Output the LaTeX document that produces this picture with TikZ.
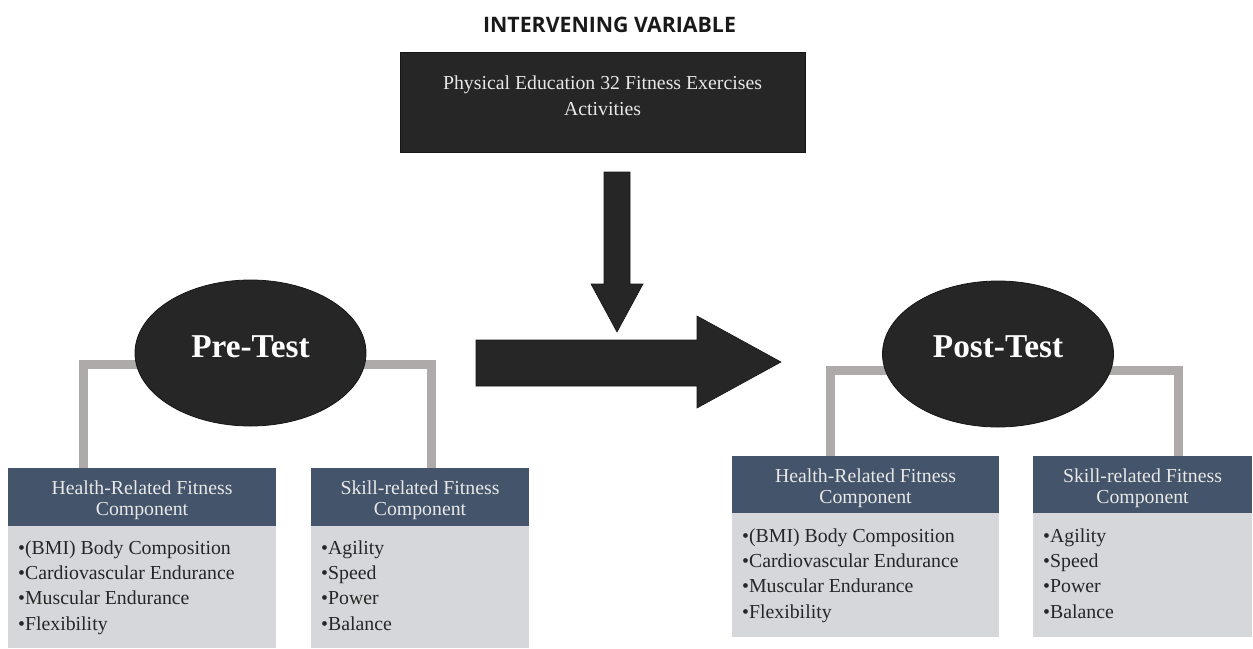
\documentclass[tikz,border=0pt]{standalone}
\usepackage{fontspec}
\setmainfont{Liberation Serif}
\newfontfamily\titlefont{Open Sans}
\usetikzlibrary{shapes.geometric}
\definecolor{boxblack}{HTML}{262626}
\definecolor{edgeblack}{HTML}{161616}
\definecolor{hdr}{HTML}{44546A}
\definecolor{bodygray}{HTML}{D6D7DB}
\definecolor{conngray}{HTML}{AEAAAA}
\definecolor{lighttxt}{HTML}{E8E8E8}
\begin{document}
\begin{tikzpicture}[x=1pt,y=-1pt,
  hdrbox/.style={rectangle, fill=hdr, inner sep=0pt, minimum height=#1},
  bodybox/.style={rectangle, fill=bodygray, inner sep=0pt, minimum height=#1},
  hdrtext/.style={text=lighttxt, align=center, inner sep=0pt, anchor=base,
     font=\fontsize{19.8}{21.5}\selectfont},
  listtext/.style={text=black!85, align=left, inner sep=0pt, anchor=base west,
     font=\fontsize{19.8}{25.4}\selectfont},
  oval/.style={ellipse, fill=boxblack, draw=edgeblack, line width=0.8pt,
     minimum width=231pt, minimum height=146pt, inner sep=0pt},
  ovaltext/.style={text=white, inner sep=0pt, anchor=base,
     font=\fontsize{33.3}{36}\selectfont\bfseries},
  conn/.style={draw=conngray, line width=9pt, line join=miter},
  blockarrow/.style={fill=boxblack, draw=edgeblack, line width=0.6pt}
]
\useasboundingbox (0,0) rectangle (1253,648);

% title
\node[inner sep=0pt, anchor=base, font=\titlefont\bfseries\fontsize{21.3}{24}\selectfont, text=black!90]
  (title) at (609.5,32) {INTERVENING VARIABLE};

% intervening variable box
\node[rectangle, fill=boxblack, draw=edgeblack, line width=0.8pt, minimum width=405pt,
  minimum height=100pt, inner sep=0pt] (iv) at (602.5,102) {};
\node[text=lighttxt, align=center, inner sep=0pt, anchor=base,
  font=\fontsize{19.8}{25.5}\selectfont] (ivt) at (602.5,115)
  {Physical Education 32 Fitness Exercises\\Activities};

% block arrows
\coordinate (dtop) at (617,172);
\coordinate (rtip) at (781,362);
\path[blockarrow] (604,172) -- (630,172) -- (630,284) -- (643,284) -- (617,332)
  -- (591,284) -- (604,284) -- cycle;
\path[blockarrow] (476,340) -- (697,340) -- (697,316) -- (rtip) -- (697,408)
  -- (697,386) -- (476,386) -- cycle;

% ---------- PRE side ----------
\node[hdrbox=58pt, minimum width=268pt] (preHh) at (142,497) {};
\node[bodybox=122pt, minimum width=268pt] (preHb) at (142,587) {};
\node[hdrbox=58pt, minimum width=218pt] (preSh) at (420,497) {};
\node[bodybox=122pt, minimum width=218pt] (preSb) at (420,587) {};

\coordinate (pl) at (83,364);
\coordinate (pr) at (431,364);
\draw[conn] (preHh.north -| pl) -- (pl) -- (pr) -- (preSh.north -| pr);

\node[oval] (pre) at (250.5,353) {};
\node[ovaltext] (pret) at (250.5,357) {Pre-Test};

\node[hdrtext] (preHt) at (142,515.5) {Health-Related Fitness\\Component};
\node[hdrtext] (preSt) at (420,515.5) {Skill-related Fitness\\Component};
\node[listtext] (preHl) at (18,630.2)
  {•(BMI) Body Composition\\•Cardiovascular Endurance\\•Muscular Endurance\\•Flexibility};
\node[listtext] (preSl) at (321,630.2)
  {•Agility\\•Speed\\•Power\\•Balance};

% ---------- POST side ----------
\node[hdrbox=57pt, minimum width=267pt] (postHh) at (865.5,484.5) {};
\node[bodybox=124pt, minimum width=267pt] (postHb) at (865.5,575) {};
\node[hdrbox=57pt, minimum width=219pt] (postSh) at (1142.5,484.5) {};
\node[bodybox=124pt, minimum width=219pt] (postSb) at (1142.5,575) {};

\coordinate (ql) at (830.5,370);
\coordinate (qr) at (1178,370);
\draw[conn] (postHh.north -| ql) -- (ql) -- (qr) -- (postSh.north -| qr);

\node[oval] (post) at (998,354) {};
\node[ovaltext] (postt) at (998,357) {Post-Test};

\node[hdrtext] (postHt) at (865.5,503.5) {Health-Related Fitness\\Component};
\node[hdrtext] (postSt) at (1142.5,503.5) {Skill-related Fitness\\Component};
\node[listtext] (postHl) at (742,618.2)
  {•(BMI) Body Composition\\•Cardiovascular Endurance\\•Muscular Endurance\\•Flexibility};
\node[listtext] (postSl) at (1043,618.2)
  {•Agility\\•Speed\\•Power\\•Balance};
\end{tikzpicture}
\end{document}
